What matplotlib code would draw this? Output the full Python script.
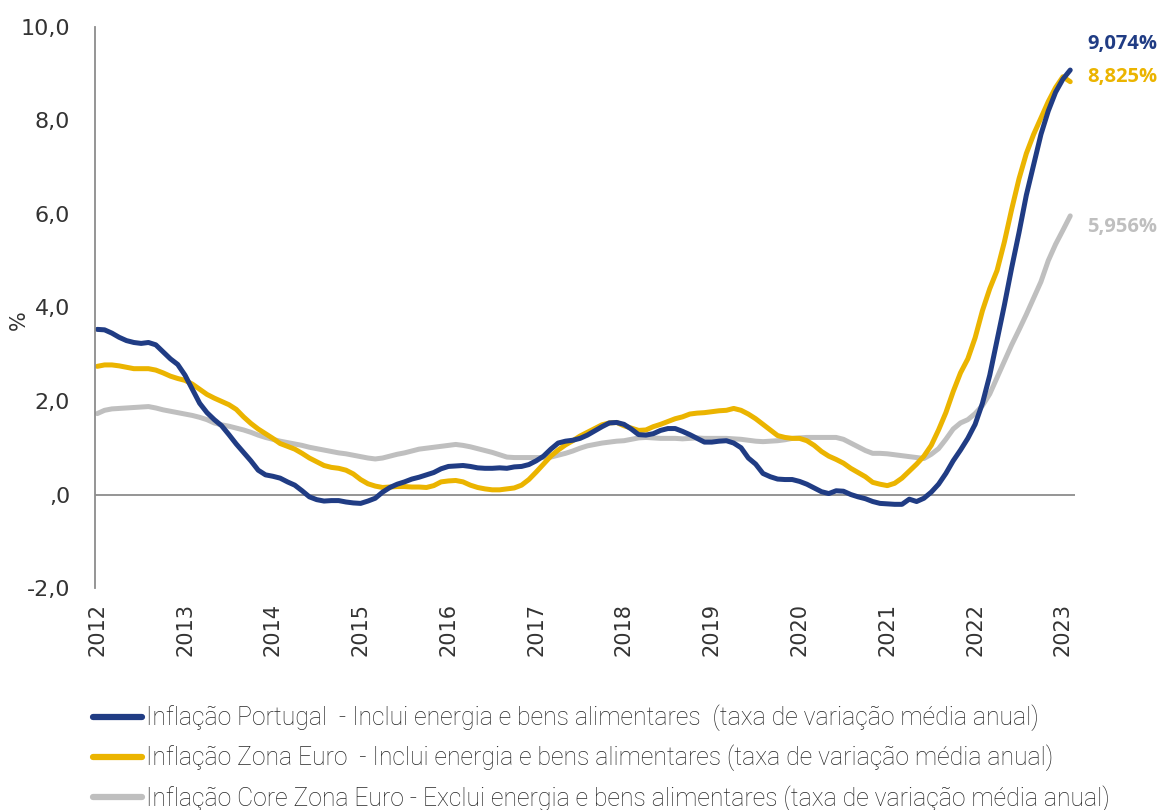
import matplotlib
matplotlib.use("Agg")
import matplotlib.pyplot as plt
import numpy as np

# taxa de variação média anual (%), mensal, Jan 2012 - Fev 2023
portugal = [
    3.53, 3.52, 3.45, 3.36, 3.29, 3.25, 3.23, 3.25, 3.20, 3.05, 2.90, 2.78,
    2.55, 2.25, 1.95, 1.75, 1.60, 1.47, 1.28, 1.08, 0.90, 0.72, 0.52, 0.42,
    0.39, 0.35, 0.27, 0.20, 0.08, -0.05, -0.11, -0.14, -0.13, -0.13, -0.16, -0.18,
    -0.19, -0.14, -0.08, 0.05, 0.15, 0.22, 0.27, 0.33, 0.37, 0.42, 0.47, 0.55,
    0.60, 0.61, 0.62, 0.60, 0.57, 0.56, 0.56, 0.57, 0.56, 0.59, 0.60, 0.64,
    0.72, 0.82, 0.97, 1.10, 1.14, 1.16, 1.20, 1.27, 1.36, 1.45, 1.53, 1.54,
    1.50, 1.40, 1.28, 1.27, 1.30, 1.37, 1.41, 1.41, 1.35, 1.28, 1.20, 1.12,
    1.12, 1.14, 1.15, 1.10, 1.00, 0.78, 0.65, 0.45, 0.38, 0.33, 0.32, 0.32,
    0.28, 0.22, 0.14, 0.06, 0.02, 0.08, 0.07, 0.00, -0.05, -0.09, -0.15, -0.19,
    -0.20, -0.21, -0.21, -0.10, -0.15, -0.08, 0.05, 0.22, 0.45, 0.72, 0.95, 1.20,
    1.50, 1.95, 2.55, 3.30, 4.05, 4.85, 5.60, 6.40, 7.05, 7.70, 8.20, 8.60,
    8.88, 9.074,
]
zona_euro = [
    2.74, 2.77, 2.77, 2.75, 2.72, 2.69, 2.69, 2.69, 2.66, 2.60, 2.53, 2.48,
    2.44, 2.36, 2.25, 2.14, 2.06, 1.99, 1.92, 1.82, 1.66, 1.52, 1.40, 1.30,
    1.20, 1.09, 1.03, 0.97, 0.88, 0.78, 0.70, 0.62, 0.58, 0.56, 0.52, 0.44,
    0.32, 0.23, 0.18, 0.15, 0.16, 0.17, 0.17, 0.16, 0.16, 0.15, 0.19, 0.27,
    0.29, 0.30, 0.27, 0.20, 0.15, 0.12, 0.10, 0.10, 0.12, 0.14, 0.20, 0.32,
    0.48, 0.65, 0.82, 0.95, 1.06, 1.15, 1.25, 1.33, 1.41, 1.49, 1.53, 1.54,
    1.47, 1.42, 1.37, 1.38, 1.45, 1.50, 1.56, 1.62, 1.66, 1.72, 1.74, 1.75,
    1.77, 1.79, 1.80, 1.84, 1.80, 1.72, 1.62, 1.50, 1.38, 1.26, 1.22, 1.20,
    1.20, 1.15, 1.05, 0.92, 0.82, 0.75, 0.67, 0.56, 0.47, 0.38, 0.26, 0.22,
    0.19, 0.24, 0.35, 0.50, 0.65, 0.82, 1.05, 1.38, 1.75, 2.20, 2.60, 2.90,
    3.35, 3.93, 4.40, 4.79, 5.40, 6.10, 6.75, 7.29, 7.70, 8.05, 8.40, 8.70,
    8.93, 8.825,
]
core_euro = [
    1.73, 1.80, 1.83, 1.84, 1.85, 1.86, 1.87, 1.88, 1.85, 1.81, 1.78, 1.75,
    1.72, 1.69, 1.65, 1.60, 1.53, 1.49, 1.46, 1.42, 1.38, 1.33, 1.27, 1.22,
    1.18, 1.14, 1.11, 1.08, 1.05, 1.01, 0.98, 0.95, 0.92, 0.89, 0.87, 0.84,
    0.81, 0.78, 0.76, 0.78, 0.82, 0.86, 0.89, 0.93, 0.97, 0.99, 1.01, 1.03,
    1.05, 1.07, 1.05, 1.02, 0.98, 0.94, 0.90, 0.85, 0.80, 0.79, 0.79, 0.79,
    0.79, 0.79, 0.80, 0.84, 0.88, 0.93, 0.99, 1.04, 1.07, 1.10, 1.12, 1.14,
    1.15, 1.18, 1.21, 1.22, 1.21, 1.20, 1.20, 1.20, 1.19, 1.20, 1.21, 1.20,
    1.20, 1.20, 1.20, 1.19, 1.18, 1.16, 1.14, 1.13, 1.14, 1.15, 1.17, 1.20,
    1.21, 1.22, 1.22, 1.22, 1.22, 1.22, 1.18, 1.10, 1.02, 0.94, 0.88, 0.88,
    0.87, 0.85, 0.83, 0.81, 0.79, 0.77, 0.86, 0.98, 1.18, 1.40, 1.53, 1.60,
    1.73, 1.90, 2.15, 2.50, 2.85, 3.20, 3.52, 3.85, 4.20, 4.55, 5.00, 5.35,
    5.65, 5.956,
]
anos = [str(a) for a in range(2012, 2024)]
end_labels = ["9,074%", "8,825%", "5,956%"]
legend_labels = [
    "Inflação Portugal  - Inclui energia e bens alimentares  (taxa de variação média anual)",
    "Inflação Zona Euro  - Inclui energia e bens alimentares (taxa de variação média anual)",
    "Inflação Core Zona Euro - Exclui energia e bens alimentares (taxa de variação média anual)",
]

cores = ["#203C84", "#EBB400", "#BFBFBF"]
label_dy = [19, 3.5, -8]

fig = plt.figure(figsize=(11.62, 8.10), dpi=100)
ax = fig.add_axes([0.0818, 0.274, 0.843, 0.693])

meses = np.arange(len(portugal))
series = [portugal, zona_euro, core_euro]
linhas = []
for s, c in zip(series[::-1], cores[::-1]):
    l, = ax.plot(meses, s, color=c, lw=3.6, solid_capstyle="round")
    linhas.append(l)
linhas = linhas[::-1]

for s, c, txt, dy in zip(series, cores, end_labels, label_dy):
    ax.annotate(txt, xy=(meses[-1], s[-1]), xytext=(12, dy), textcoords="offset points",
                ha="left", va="center", color=c, fontsize=14.5, fontweight="bold",
                family="Open Sans", annotation_clip=False)

ax.axhline(0, color="#8C8C8C", lw=1.3, zorder=0.5)
ax.set_ylim(-2, 10)
ax.set_xlim(-0.3, 133.6)
ax.set_yticks(np.arange(-2, 11, 2))
ax.set_yticklabels(["-2,0", ",0", "2,0", "4,0", "6,0", "8,0", "10,0"])
ax.set_xticks(np.arange(0, 133, 12))
ax.set_xticklabels(anos, rotation=90)
ax.tick_params(axis="y", length=0, pad=18, labelsize=16, labelcolor="#333333")
ax.tick_params(axis="x", length=0, pad=11, labelsize=15, labelcolor="#333333")
for sp in ["top", "right", "bottom"]:
    ax.spines[sp].set_visible(False)
ax.spines["left"].set_color("#8C8C8C")
ax.spines["left"].set_linewidth(1.3)
ax.set_ylabel("%", fontsize=15, color="#333333")
ax.yaxis.set_label_coords(-0.068, 0.478)

leg = fig.legend(linhas, legend_labels, loc="upper left", bbox_to_anchor=(0.080, 0.130),
                 frameon=False, handlelength=2.0, handletextpad=0.16, labelspacing=0.55,
                 borderaxespad=0, borderpad=0,
                 prop={"family": "Roboto", "weight": "light", "size": 17.8})
for t in leg.get_texts():
    t.set_color("#262626")
for h in leg.get_lines():
    h.set_linewidth(4.5)

fig.savefig("out.png", dpi=100)
